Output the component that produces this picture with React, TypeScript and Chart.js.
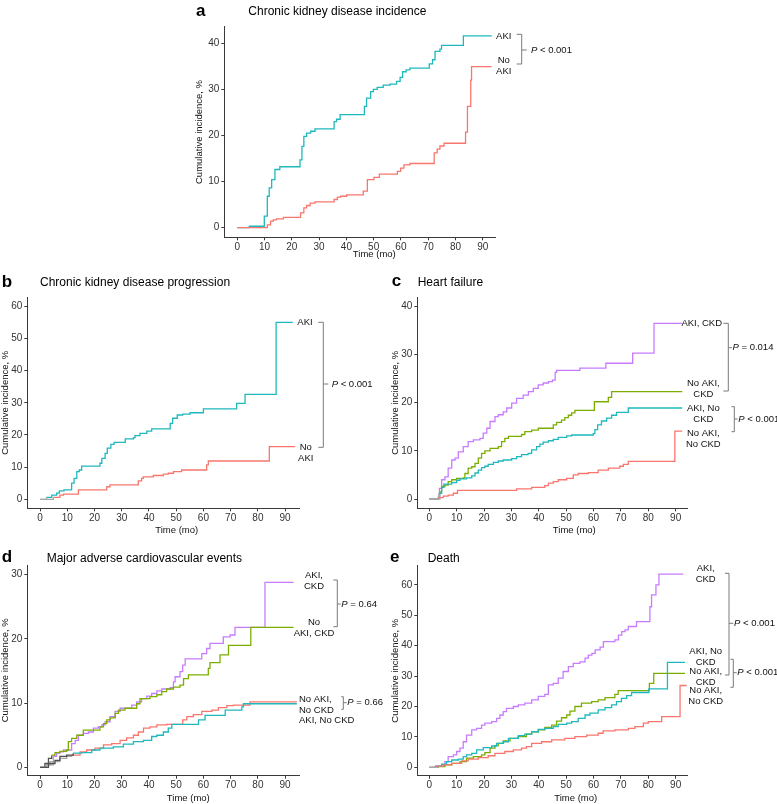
import React, { useEffect, useRef } from "react";
import { Chart, registerables } from "chart.js";

Chart.register(...registerables);

// ---------- data ----------
const xTicks = [0, 10, 20, 30, 40, 50, 60, 70, 80, 90];
const aYTicks = [0, 10, 20, 30, 40];
const bYTicks = [0, 10, 20, 30, 40, 50, 60];
const cYTicks = [0, 10, 20, 30, 40];
const dYTicks = [0, 10, 20, 30];
const eYTicks = [0, 10, 20, 30, 40, 50, 60];

// a: CKD incidence
const aAki: [number, number][] = [[0,0],[4.4,0.3],[9.9,2.5],[11,6.8],[11.7,8.6],[12.6,10.4],[13.8,12.6],[15.6,13.2],[23,14.7],[23.7,17.6],[24.4,19.8],[25.4,20.5],[26.9,20.9],[28.5,21.4],[35.5,23],[36.4,23.5],[37.7,24.5],[46.6,26.3],[47.4,28.1],[48.9,29.5],[49.9,30],[51.3,30.4],[53.5,30.9],[56,31.1],[58.4,31.7],[59.7,32.6],[60.6,33.8],[61.9,34.2],[63.3,34.6],[70.4,35.5],[71.6,36.4],[72.5,38.2],[74.3,38.7],[74.9,39.5],[82.9,41.6],[93.3,41.6]];
const aNoAki: [number, number][] = [[0,0],[11,0.6],[12.2,1.4],[13.2,1.7],[14.4,1.9],[16.9,2.2],[23.2,3.2],[24.4,4.3],[25.4,4.8],[26.7,5.3],[28.5,5.6],[35.5,6.1],[36.7,6.6],[37.9,6.8],[40.1,7.1],[46.2,7.9],[47.7,10.4],[50.1,10.9],[52.1,11.6],[58.7,12.2],[59.9,12.9],[61.1,13.6],[63.3,13.9],[72.2,16.2],[73.3,17],[74.3,17.7],[75.8,18.3],[83.7,20.7],[84.4,26.3],[85.6,32],[85.9,34.9],[93.3,34.9]];

// b: CKD progression
const bAki: [number, number][] = [[0,0],[2.4,0.6],[4.3,1.3],[6.1,1.9],[7.1,2.6],[8.8,2.9],[11.6,5],[12.5,6.5],[13.5,8.6],[14.4,9.1],[15.3,10.3],[22,11.2],[22.7,12.7],[23.9,14.3],[24.7,15.9],[26,17.1],[27.2,17.7],[31.3,18.8],[34.3,19.2],[34.9,19.8],[36.7,20.5],[39.2,21.2],[41,21.9],[47.8,23.6],[48.7,25.2],[50.4,26.2],[52.4,26.5],[55.1,26.9],[60,28.1],[72.2,29.8],[75.3,32.6],[86.7,55],[92.8,55]];
const bNoAki: [number, number][] = [[0,0],[4.9,0.6],[7.3,1.3],[8.6,1.6],[14.1,2.9],[24.5,3.9],[25.7,4.5],[36.1,5.7],[37.3,6.5],[37.9,7],[41.6,7.4],[45.3,7.8],[47.1,8.1],[49,8.6],[52,9.1],[61.2,10.7],[61.8,11.9],[84.2,16.4],[93.7,16.4]];

// c: heart failure
const cAkiCkd: [number, number][] = [[0,0],[3.3,0.5],[3.7,2.2],[4.5,4],[5.7,4.6],[6.9,6.4],[8.2,8.1],[9.4,8.5],[10.6,9.8],[12.4,10.9],[14.2,11.9],[16.1,12.3],[18.5,12.6],[19.7,13.7],[21,14.7],[22.2,16.1],[24,17.1],[25.2,17.5],[27,18.1],[28.3,18.9],[30.1,19.9],[31.9,20.9],[34.3,21.6],[36.2,22.3],[38,23],[39.8,23.7],[41.6,24.1],[43.5,24.4],[45,24.7],[46,26.3],[46.5,26.7],[55,27.2],[64.5,28.2],[74.3,30.3],[82.1,36.5],[92.4,36.5]];
const cNoAkiCkd: [number, number][] = [[0,0],[3.9,1.5],[4.5,2.6],[5.7,2.9],[6.9,3.6],[8.2,4],[10,4.3],[12.4,4.4],[13,5.3],[14.2,6.4],[15.5,6.7],[16.7,7.4],[17.9,8.5],[19.1,9.5],[20.3,10],[22.2,10.5],[25.2,10.9],[26.4,11.9],[27.6,12.6],[28.9,13],[33.7,13.4],[34.9,14],[37.4,14.3],[39.8,14.7],[45.3,15.4],[46.5,15.9],[48.3,16.4],[49.5,16.9],[50.8,17.4],[52,17.9],[53.2,18.4],[60.3,20.2],[65.4,21.1],[66.6,22.3],[92.4,22.3]];
const cAkiNoCkd: [number, number][] = [[0,0],[3.5,1.2],[4.5,2.4],[5.3,3.1],[8.2,3.4],[10,3.9],[11.2,4.2],[13.6,4.4],[15.5,4.8],[16.7,5.4],[17.9,6],[19.1,6.5],[20.3,6.8],[21.5,7.2],[23.4,7.6],[25.2,7.9],[27,8.1],[30.1,8.4],[31.9,8.8],[33.7,9.2],[36.1,9.5],[37.4,10.2],[39.2,10.9],[40.4,11.4],[41.6,11.8],[43.5,12.1],[45.3,12.4],[47.1,12.8],[50.2,13.1],[52,13.3],[59.9,13.6],[60.5,14.4],[61.5,15.4],[62.9,16.2],[64.8,16.8],[66.6,17.4],[68.4,18],[72.7,18.9],[92.4,18.9]];
const cNoAkiNoCkd: [number, number][] = [[0,0],[3.3,0.3],[5.1,0.6],[6.9,0.8],[8.8,1.2],[10.3,1.8],[31.9,2.1],[37.4,2.4],[42.2,2.8],[43.5,3.3],[45.3,3.6],[47.1,4],[50.2,4.3],[52.6,5],[54.4,5.3],[58.1,5.5],[61.7,6],[65.4,6.4],[69.6,6.8],[70.9,7.2],[72.7,7.8],[89.7,14.1],[92.4,14.1]];

// d: MACE
const dAkiCkd: [number, number][] = [[0,0],[2.4,0.4],[3.7,0.9],[4.9,1.7],[6.1,2.2],[7.3,2.4],[8.6,2.7],[11.6,3.7],[12.9,4.2],[14.1,5],[15.9,5.3],[17.8,5.5],[19.6,6.1],[21.4,6.3],[22.7,6.6],[23.9,7.1],[25.7,7.9],[27.6,8.7],[29.4,9.2],[33.7,9.7],[35.5,10.2],[37.3,10.7],[39.2,11.1],[41,11.5],[42.9,11.9],[44.7,12.2],[47.8,12.4],[49,13.3],[49.6,14.1],[51.4,14.9],[52.4,15.9],[53.3,16.9],[59.4,17.7],[61.2,18.5],[62.4,19.3],[67.3,20.3],[69.8,20.6],[71.6,21.8],[82.6,28.8],[93.1,28.8]];
const dNoAkiCkd: [number, number][] = [[0,0],[1.8,0.6],[3.1,1.4],[4.3,1.9],[5.5,2.3],[7.3,2.5],[9.8,2.7],[10.4,4],[11.6,4.5],[13.5,5],[15.9,5.8],[22,6.3],[23.3,6.8],[24.5,7.4],[25.7,7.7],[27.6,8.4],[28.8,8.9],[31.2,9.2],[35.5,9.9],[36.7,10.7],[40.4,11],[42.9,11.3],[44.7,11.8],[46.5,12.2],[49,12.5],[51.4,12.8],[52.7,13.8],[54.5,14.4],[61.8,15.4],[62.4,16.3],[66.1,17.5],[69.2,19],[77.4,21.8],[93.1,21.8]];
const dNoAkiNoCkd: [number, number][] = [[0,0],[2.4,0.4],[4.9,0.9],[7.3,1.4],[9.8,1.7],[11.6,1.9],[14.7,2.4],[17.1,2.7],[20.2,3],[23.3,3.5],[26.3,3.7],[29.4,4.2],[31.8,4.6],[34.3,5],[36.1,5.5],[38,6.1],[40.4,6.3],[42.9,6.6],[46.5,6.7],[52.4,7.4],[53.9,7.9],[56.3,8.2],[59.4,8.7],[63.1,8.9],[65.5,9.3],[68.6,9.6],[71,9.7],[77.1,10.2],[94.3,10.2]];
const dAkiNoCkd: [number, number][] = [[0,0],[3.1,0.6],[5.5,1.1],[7.3,1.7],[9.8,1.9],[12.2,2.2],[15.3,2.3],[19,2.7],[22,3],[26.9,3.2],[30.6,3.6],[34.3,4],[38,4.2],[41,4.8],[42.9,5],[45.3,5.5],[47.1,6.1],[48.4,6.7],[58.2,7.4],[60.6,8.1],[68,8.9],[74.1,9.4],[74.7,9.9],[94.3,9.9]];

// e: death
const eAkiCkd: [number, number][] = [[0,0],[2.7,0.4],[4.5,0.8],[5.7,1.9],[6.9,3.5],[8.8,4.1],[10,5.2],[11.2,6.3],[12.4,8.4],[13.6,10.6],[15.5,12.3],[17.3,12.8],[19.1,13.9],[20.3,14.5],[22.8,15],[24.6,16.1],[25.8,17.2],[27,18.3],[28.2,19.4],[30.7,20],[32.5,20.5],[34.9,21.1],[37.4,22.2],[39.8,23.3],[42.2,24],[43.5,27.1],[45.3,27.6],[47.1,29.3],[48.9,31.5],[50.8,33.1],[52.6,34.2],[55,34.7],[56.9,35.9],[58.1,36.9],[59.4,37.5],[60.6,38.6],[62.4,39.5],[63.6,41.3],[67.8,41.9],[69.1,43.5],[70.3,44.6],[71.5,45.2],[72.7,46.3],[75.7,47.9],[80.6,52.8],[81.2,56.7],[82.8,60],[83.9,63.5],[92.8,63.5]];
const eAkiNoCkd: [number, number][] = [[0,0],[2.1,0.4],[4.5,1],[6.3,1.9],[8.2,2.4],[10.6,2.7],[12.4,3.5],[13.6,4.1],[15.5,4.6],[17.3,5.7],[19.7,6.5],[22.8,7],[24.6,7.9],[27,8.4],[28.9,9.5],[32.5,10.4],[34.9,10.9],[37.4,11.7],[39.8,12.5],[42.2,12.8],[45.3,13.4],[47.1,14.1],[50.2,14.5],[52,15],[54.4,16.1],[56.9,17.2],[58.7,17.8],[61.7,18.9],[64.2,19.6],[66.6,20.5],[68.4,21.6],[70.2,22.7],[72.1,23.6],[73.9,24.6],[80.2,25.8],[87,34.5],[93.4,34.5]];
const eNoAkiCkd: [number, number][] = [[0,0],[3.3,0.2],[5.7,0.8],[8.2,1.3],[11.2,1.9],[13.6,3],[16.1,3.5],[19.1,4.1],[20.3,4.8],[22.2,6.3],[24,7.1],[25.2,7.9],[27,8.7],[29.5,9.5],[32.5,10.1],[35.5,10.9],[37.4,11.7],[39.8,12.3],[42.2,13.1],[44.7,13.9],[46.5,15.2],[48.3,16.3],[50.2,17.2],[51.4,18.5],[53.2,20],[55.6,21.1],[59.3,21.6],[61.7,22.2],[64.2,22.9],[67.8,24],[69,25.2],[80.4,27.6],[82,30.9],[93.4,30.9]];
const eNoAkiNoCkd: [number, number][] = [[0,0],[2.1,0.4],[5.1,0.8],[8.2,1.3],[11.8,2.1],[14.2,2.7],[17.9,3.2],[21.5,3.8],[24,4.6],[27.6,5.2],[30.7,5.7],[33.7,6.3],[35.5,6.8],[37.4,7.9],[41,8.4],[44.7,9],[49.5,9.5],[53.2,10.1],[57.5,10.6],[61.7,11.2],[63.5,12],[67.8,12.3],[72.7,12.8],[75.1,13.4],[78.2,14.5],[80,15],[84.9,16.7],[91.6,26.9],[94,26.9]];

// ---------- styling ----------
const W = 777;
const H = 804;
const FF = '"Liberation Sans", Arial, Helvetica, sans-serif';
const TEAL = "#1FB8BC";
const RED = "#F8766D";
const PURPLE = "#C77CFF";
const GREEN = "#7CAE00";
const GRAY_L = "#a8a8a8";
const GRAY_D = "#505050";
const AXIS = "#3a3a3a";
const TICKTXT = "#333333";
const BRACKET = "#7a7a7a";
const Y_W = 20;
const X_H = 14;
const LH = 11;

type Label = { lines: string[]; x: number; y: number; align?: CanvasTextAlign };
type Bracket = { x: number; top: number; bottom: number; x1: number; mid: number; x2: number; tx: number; text: string };
type Series = { data: [number, number][]; color: string; headUntil?: number; headColor?: string };
type Panel = {
  key: string;
  letter: string; letterX: number; letterY: number;
  title: string; titleX: number; titleY: number;
  l: number; t: number; r: number; b: number;
  xMin: number; xMax: number; yMin: number; yMax: number;
  yTicks: number[];
  series: Series[];
  xTitle: [number, number]; yTitleX: number;
  labels: Label[]; brackets: Bracket[];
};

const panels: Panel[] = [
  {
    key: "a", letter: "a", letterX: 196, letterY: 16,
    title: "Chronic kidney disease incidence", titleX: 248.3, titleY: 15.3,
    l: 224.3, t: 26.7, r: 495, b: 237.3,
    xMin: -4.77, xMax: 94.5, yMin: -2.1, yMax: 43.57, yTicks: aYTicks,
    series: [{ data: aNoAki, color: RED }, { data: aAki, color: TEAL }],
    xTitle: [374.3, 254.3], yTitleX: 199,
    labels: [{ lines: ["AKI"], x: 503.7, y: 36 }, { lines: ["No", "AKI"], x: 503.7, y: 60.7 }],
    brackets: [{ x: 521.7, top: 34.3, bottom: 64, x1: 516.7, mid: 50, x2: 526.7, tx: 531, text: "< 0.001" }],
  },
  {
    key: "b", letter: "b", letterX: 1.7, letterY: 286.7,
    title: "Chronic kidney disease progression", titleX: 40, titleY: 286,
    l: 27.3, t: 297.3, r: 299, b: 508.3,
    xMin: -4.67, xMax: 95.1, yMin: -2.8, yMax: 62.8, yTicks: bYTicks,
    series: [
      { data: bNoAki, color: RED, headUntil: 4.9, headColor: GRAY_L },
      { data: bAki, color: TEAL, headUntil: 2.4, headColor: GRAY_L },
    ],
    xTitle: [176.7, 530], yTitleX: 5.5,
    labels: [{ lines: ["AKI"], x: 305, y: 322.3 }, { lines: ["No", "AKI"], x: 305.7, y: 447.3 }],
    brackets: [{ x: 323.3, top: 322.3, bottom: 447.3, x1: 318.3, mid: 384, x2: 328.3, tx: 331.7, text: "< 0.001" }],
  },
  {
    key: "c", letter: "c", letterX: 391.7, letterY: 286,
    title: "Heart failure", titleX: 417.7, titleY: 286,
    l: 417.3, t: 297.3, r: 687.7, b: 508.3,
    xMin: -4.38, xMax: 94.4, yMin: -1.93, yMax: 41.9, yTicks: cYTicks,
    series: [
      { data: cNoAkiNoCkd, color: RED, headUntil: 3.3, headColor: GRAY_L },
      { data: cAkiNoCkd, color: TEAL, headUntil: 3.5, headColor: GRAY_L },
      { data: cNoAkiCkd, color: GREEN, headUntil: 3.9, headColor: GRAY_L },
      { data: cAkiCkd, color: PURPLE, headUntil: 3.3, headColor: GRAY_L },
    ],
    xTitle: [574.3, 530], yTitleX: 395,
    labels: [
      { lines: ["AKI, CKD"], x: 701.7, y: 323.3 },
      { lines: ["No AKI,", "CKD"], x: 703.3, y: 383.3 },
      { lines: ["AKI, No", "CKD"], x: 703.3, y: 408.3 },
      { lines: ["No AKI,", "No CKD"], x: 703.3, y: 433.3 },
    ],
    brackets: [
      { x: 728.3, top: 323.3, bottom: 391, x1: 723.3, mid: 347.7, x2: 732, tx: 732.5, text: "= 0.014" },
      { x: 734.3, top: 406.7, bottom: 431.7, x1: 731.5, mid: 419, x2: 737.7, tx: 738.3, text: "< 0.001" },
    ],
  },
  {
    key: "d", letter: "d", letterX: 1.7, letterY: 562.3,
    title: "Major adverse cardiovascular events", titleX: 46.7, titleY: 561.7,
    l: 27.3, t: 565, r: 299, b: 775.7,
    xMin: -4.67, xMax: 95.1, yMin: -1.3, yMax: 31.5, yTicks: dYTicks,
    series: [
      { data: dAkiNoCkd, color: TEAL, headUntil: 12.2, headColor: GRAY_D },
      { data: dNoAkiNoCkd, color: RED, headUntil: 11.6, headColor: GRAY_L },
      { data: dNoAkiCkd, color: GREEN, headUntil: 4.3, headColor: GRAY_D },
      { data: dAkiCkd, color: PURPLE, headUntil: 4.9, headColor: GRAY_L },
    ],
    xTitle: [188.3, 798.3], yTitleX: 5.5,
    labels: [
      { lines: ["AKI,", "CKD"], x: 314, y: 575 },
      { lines: ["No", "AKI, CKD"], x: 314, y: 622.7 },
      { lines: ["No AKI,", "No CKD"], x: 299, y: 699.3, align: "left" },
      { lines: ["AKI, No CKD"], x: 299, y: 720, align: "left" },
    ],
    brackets: [
      { x: 337.3, top: 580, bottom: 626.7, x1: 333.3, mid: 604, x2: 340.7, tx: 341.3, text: "= 0.64" },
      { x: 343.3, top: 696.7, bottom: 709.3, x1: 341.3, mid: 702.7, x2: 346.7, tx: 347.3, text: "= 0.66" },
    ],
  },
  {
    key: "e", letter: "e", letterX: 390, letterY: 562.3,
    title: "Death", titleX: 427.7, titleY: 561.7,
    l: 417.3, t: 565.7, r: 687.7, b: 775.7,
    xMin: -4.38, xMax: 94.4, yMin: -2.76, yMax: 66.3, yTicks: eYTicks,
    series: [
      { data: eNoAkiNoCkd, color: RED, headUntil: 2.1, headColor: GRAY_L },
      { data: eAkiNoCkd, color: TEAL, headUntil: 2.1, headColor: GRAY_L },
      { data: eNoAkiCkd, color: GREEN, headUntil: 3.3, headColor: GRAY_L },
      { data: eAkiCkd, color: PURPLE, headUntil: 2.7, headColor: GRAY_L },
    ],
    xTitle: [575.7, 798.3], yTitleX: 395,
    labels: [
      { lines: ["AKI,", "CKD"], x: 705.7, y: 568.3 },
      { lines: ["AKI, No", "CKD"], x: 705.7, y: 651.7 },
      { lines: ["No AKI,", "CKD"], x: 705.7, y: 671.7 },
      { lines: ["No AKI,", "No CKD"], x: 705.7, y: 690.7 },
    ],
    brackets: [
      { x: 729, top: 573.3, bottom: 675, x1: 725, mid: 623.3, x2: 733.3, tx: 734, text: "< 0.001" },
      { x: 733.3, top: 659.3, bottom: 687.3, x1: 730.5, mid: 672.7, x2: 736.7, tx: 737.3, text: "< 0.001" },
    ],
  },
];

function annotPlugin(p: Panel) {
  return {
    id: "annot_" + p.key,
    afterDraw(chart: any) {
      const ctx: CanvasRenderingContext2D = chart.ctx;
      const ca = chart.chartArea;
      ctx.save();
      ctx.fillStyle = "#000";
      ctx.textBaseline = "alphabetic";
      ctx.textAlign = "left";
      ctx.font = `bold 17px ${FF}`;
      ctx.fillText(p.letter, p.letterX, p.letterY);
      ctx.font = `12px ${FF}`;
      ctx.fillText(p.title, p.titleX, p.titleY);

      ctx.fillStyle = "#111";
      ctx.font = `9.5px ${FF}`;
      ctx.textAlign = "center";
      ctx.textBaseline = "middle";
      ctx.fillText("Time (mo)", p.xTitle[0], p.xTitle[1]);
      ctx.save();
      ctx.translate(p.yTitleX, (ca.top + ca.bottom) / 2);
      ctx.rotate(-Math.PI / 2);
      ctx.fillText("Cumulative incidence, %", 0, 0);
      ctx.restore();

      ctx.font = `9.5px ${FF}`;
      for (const lab of p.labels) {
        ctx.textAlign = lab.align || "center";
        lab.lines.forEach((ln, i) => ctx.fillText(ln, lab.x, lab.y + i * LH));
      }

      ctx.strokeStyle = BRACKET;
      ctx.lineWidth = 1;
      for (const b of p.brackets) {
        ctx.beginPath();
        ctx.moveTo(b.x1, b.top);
        ctx.lineTo(b.x, b.top);
        ctx.lineTo(b.x, b.bottom);
        ctx.lineTo(b.x1, b.bottom);
        ctx.moveTo(b.x, b.mid);
        ctx.lineTo(b.x2, b.mid);
        ctx.stroke();
        ctx.textAlign = "left";
        ctx.font = `italic 9.5px ${FF}`;
        ctx.fillText("P", b.tx, b.mid);
        const w = ctx.measureText("P").width;
        ctx.font = `9.5px ${FF}`;
        ctx.fillText(" " + b.text, b.tx + w, b.mid);
      }
      ctx.restore();
    },
  };
}

function makeChart(canvas: HTMLCanvasElement, p: Panel) {
  const tickFont = { family: FF, size: 10 };
  return new Chart(canvas, {
    type: "line",
    data: {
      datasets: p.series.map((s) => ({
        data: s.data.map(([x, y]) => ({ x, y })),
        borderColor: s.color,
        borderWidth: 1.3,
        pointRadius: 0,
        stepped: "before" as const,
        fill: false,
        tension: 0,
        segment: {
          borderColor: (sc: any) =>
            s.headUntil !== undefined && sc.p1.parsed.x <= s.headUntil ? s.headColor : undefined,
        },
      })),
    },
    options: {
      animation: false,
      responsive: false,
      maintainAspectRatio: false,
      devicePixelRatio: 1,
      events: [],
      layout: { padding: { left: p.l - Y_W, top: p.t, right: W - p.r, bottom: H - p.b - X_H } },
      plugins: { legend: { display: false }, tooltip: { enabled: false }, title: { display: false } },
      scales: {
        x: {
          type: "linear",
          min: p.xMin,
          max: p.xMax,
          grid: { display: true, drawOnChartArea: false, drawTicks: true, tickLength: 3, color: AXIS },
          border: { display: true, color: AXIS, width: 1 },
          ticks: { font: tickFont, color: TICKTXT, padding: 1, maxRotation: 0, autoSkip: false },
          afterBuildTicks: (s: any) => { s.ticks = xTicks.map((v) => ({ value: v })); },
          afterFit: (s: any) => { s.height = X_H; },
        },
        y: {
          type: "linear",
          min: p.yMin,
          max: p.yMax,
          grid: { display: true, drawOnChartArea: false, drawTicks: true, tickLength: 3, color: AXIS },
          border: { display: true, color: AXIS, width: 1 },
          ticks: { font: tickFont, color: TICKTXT, padding: 2, autoSkip: false },
          afterBuildTicks: (s: any) => { s.ticks = p.yTicks.map((v) => ({ value: v })); },
          afterFit: (s: any) => { s.width = Y_W; },
        },
      },
    } as any,
    plugins: [annotPlugin(p)],
  });
}

function PanelCanvas({ p }: { p: Panel }) {
  const ref = useRef<HTMLCanvasElement | null>(null);
  useEffect(() => {
    if (!ref.current) return;
    const ch = makeChart(ref.current, p);
    return () => ch.destroy();
  }, [p]);
  return (
    <canvas
      ref={ref}
      width={W}
      height={H}
      style={{ position: "absolute", left: 0, top: 0, width: W, height: H }}
    />
  );
}

export default function App() {
  return (
    <div style={{ position: "absolute", left: 0, top: 0, width: W, height: H, background: "#fff", overflow: "hidden" }}>
      {panels.map((p) => (
        <PanelCanvas key={p.key} p={p} />
      ))}
    </div>
  );
}
